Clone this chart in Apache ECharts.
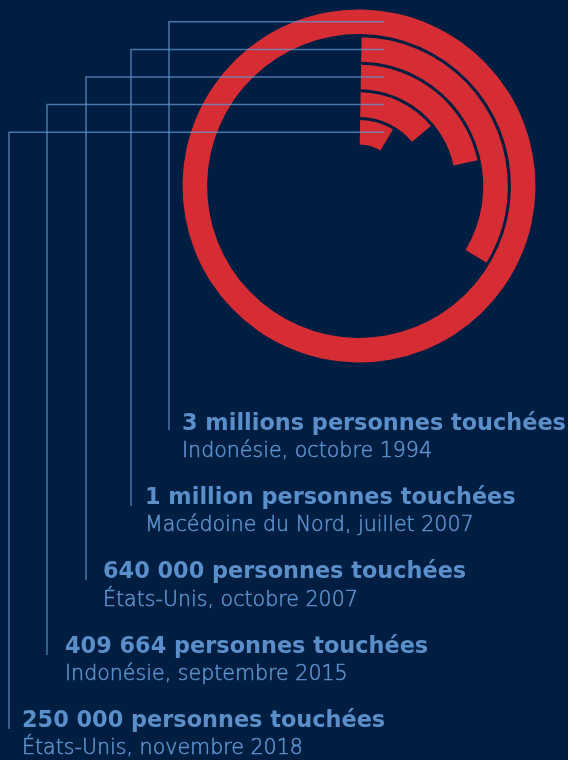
<!DOCTYPE html>
<html>
<head>
<meta charset="utf-8">
<script src="https://cdn.jsdelivr.net/npm/echarts@6/dist/echarts.min.js"></script>
<style>
html,body{margin:0;padding:0;background:#001E41;}
#chart{width:568px;height:760px;}
</style>
</head>
<body>
<div id="chart"></div>
<script>
// ---- data ----
const titles = [
  '3 millions personnes touchées',
  '1 million personnes touchées',
  '640 000 personnes touchées',
  '409 664 personnes touchées',
  '250 000 personnes touchées'
];
const places = [
  'Indonésie, octobre 1994',
  'Macédoine du Nord, juillet 2007',
  'États-Unis, octobre 2007',
  'Indonésie, septembre 2015',
  'États-Unis, novembre 2018'
];
const affected = [3000000, 1000000, 640000, 409664, 250000];
const scaleMax = 3000000;

// ---- layout ----
const leaderX = [169, 131, 86, 47, 9];
const leaderEndY = [430, 506, 580, 655, 729];
const textX = [182, 145, 103, 65, 22];
const titleY0 = 424, blockPitch = 74.3, subOffset = 27.6;
const lineRightX = 384;
const titleFit = 384;   // reference pixel width of first title
const subFit = 250;     // reference pixel width of first subtitle
const titleFamily = '"DejaVu Sans", "Open Sans", sans-serif';
const subFamily = '"DejaVu Sans", "Open Sans", sans-serif';
const titleWeight = 'bold', subWeight = '200';

function fitSize(text, weight, family, target) {
  const c = document.createElement('canvas').getContext('2d');
  c.font = weight + ' 20px ' + family;
  const w = c.measureText(text).width;
  return Math.round(20 * target / w * 10) / 10;
}
const titleSize = fitSize(titles[0], titleWeight, titleFamily, titleFit);
const subSize = fitSize(places[0], subWeight, subFamily, subFit);

const radiusCats = places.slice().reverse();   // inner -> outer
const radiusVals = affected.slice().reverse();

const chart = echarts.init(document.getElementById('chart'), null, {renderer: 'canvas'});
chart.setOption({
  backgroundColor: '#001E41',
  animation: false,
  polar: { center: [359, 186], radius: [40, 178] },
  angleAxis: { type: 'value', min: 0, max: scaleMax, startAngle: 89, clockwise: true, show: false },
  radiusAxis: { type: 'category', data: radiusCats, show: false },
  series: [{
    type: 'bar',
    coordinateSystem: 'polar',
    data: radiusVals,
    barCategoryGap: '11%',
    itemStyle: { color: '#D62D34' },
    silent: true
  }]
});

// leader lines from the ring positions
const graphics = [];
for (let i = 0; i < titles.length; i++) {
  const catIdx = radiusCats.length - 1 - i;
  let y;
  try {
    const p = chart.convertToPixel({seriesIndex: 0}, [catIdx, 0]);
    y = p[1];
  } catch (e) { y = 21 + i * 27.6; }
  graphics.push({
    type: 'polyline', z: 100, silent: true,
    shape: { points: [[lineRightX, y], [leaderX[i], y], [leaderX[i], leaderEndY[i]]] },
    style: { stroke: 'rgba(98,148,205,0.75)', lineWidth: 1.5, fill: null }
  });
  graphics.push({
    type: 'text', z: 100, silent: true,
    style: {
      text: titles[i], x: textX[i], y: titleY0 + i * blockPitch,
      fill: '#5B8FCA', fontFamily: titleFamily, fontWeight: titleWeight, fontSize: titleSize,
      verticalAlign: 'middle', align: 'left'
    }
  });
  graphics.push({
    type: 'text', z: 100, silent: true,
    style: {
      text: places[i], x: textX[i], y: titleY0 + i * blockPitch + subOffset,
      fill: '#5E92CD', stroke: '#5E92CD', lineWidth: 0.5,
      fontFamily: subFamily, fontWeight: subWeight, fontSize: subSize,
      verticalAlign: 'middle', align: 'left'
    }
  });
}
chart.setOption({ graphic: { elements: graphics } });
</script>
</body>
</html>
